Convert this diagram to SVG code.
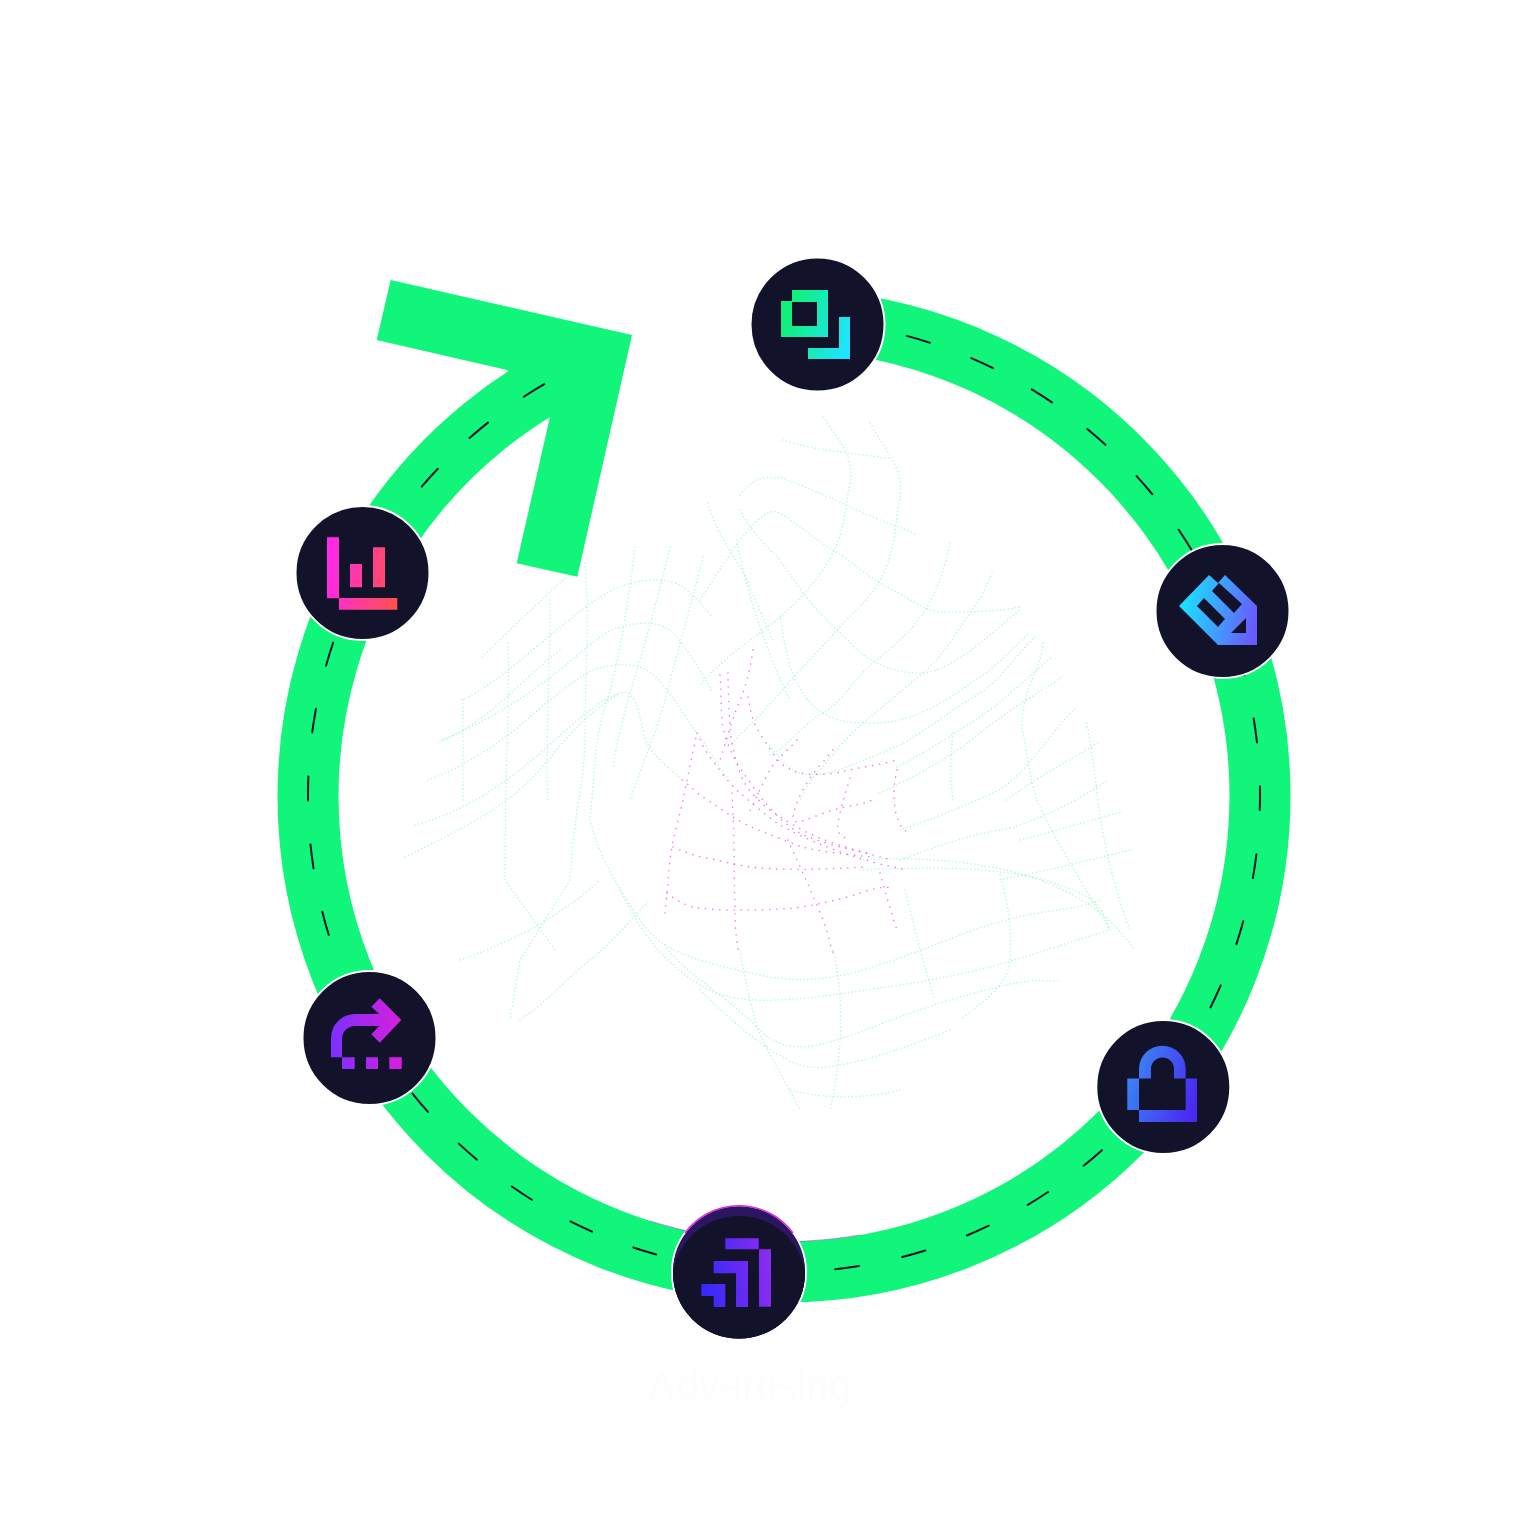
<svg xmlns="http://www.w3.org/2000/svg" width="1536" height="1536" viewBox="0 0 1536 1536">
<style>
.g{fill:none;stroke:#86f5bb;stroke-width:1.5;stroke-linecap:round;stroke-dasharray:.1 3.6;opacity:.6}
.p{fill:none;stroke:#ea45e4;stroke-width:1.5;stroke-linecap:round;stroke-dasharray:.1 7;opacity:.75}
.n{fill:#12122b;stroke:#fff;stroke-width:2}
.ring{fill:none;stroke:#10f57a;stroke-width:61}
.dash{fill:none;stroke:#12122b;stroke-width:2;stroke-linecap:round;stroke-dasharray:24 44.2;stroke-dashoffset:-22}
</style>
<defs>
<linearGradient id="i1" gradientUnits="userSpaceOnUse" x1="785" y1="325" x2="848" y2="345"><stop offset="0" stop-color="#10f07a"/><stop offset="1" stop-color="#1fe4ff"/></linearGradient>
<linearGradient id="i2" gradientUnits="userSpaceOnUse" x1="1185" y1="605" x2="1257" y2="620"><stop offset="0" stop-color="#1cdcff"/><stop offset="1" stop-color="#6a58ff"/></linearGradient>
<linearGradient id="i3" gradientUnits="userSpaceOnUse" x1="1127" y1="1075" x2="1197" y2="1100"><stop offset="0" stop-color="#3a86f5"/><stop offset="1" stop-color="#4a28f0"/></linearGradient>
<linearGradient id="i4" gradientUnits="userSpaceOnUse" x1="701" y1="1280" x2="771" y2="1270"><stop offset="0" stop-color="#3528f8"/><stop offset="1" stop-color="#8a2cf0"/></linearGradient>
<linearGradient id="i5" gradientUnits="userSpaceOnUse" x1="331" y1="1035" x2="402" y2="1035"><stop offset="0" stop-color="#7b30ff"/><stop offset="1" stop-color="#d81fdc"/></linearGradient>
<linearGradient id="i6" gradientUnits="userSpaceOnUse" x1="327" y1="575" x2="397" y2="585"><stop offset="0" stop-color="#ff28e6"/><stop offset="1" stop-color="#ff5050"/></linearGradient>
<clipPath id="c4"><circle cx="739" cy="1272.5" r="66"/></clipPath>
</defs>

<g id="mesh">
<path class="g" d="M482 657C510 630 540 600 567 577"/>
<path class="g" d="M462 700C490 688 520 660 553 633S600 595 620 587S670 575 687 590S705 610 713 617"/>
<path class="g" d="M442 740C480 725 520 700 547 680S600 632 620 627S660 620 673 633S700 670 713 693"/>
<path class="g" d="M428 780C470 765 510 735 530 717S575 680 587 673S630 660 647 670S680 710 697 733S720 770 727 777"/>
<path class="g" d="M405 857C460 830 500 810 530 780S570 725 620 693"/>
<path class="g" d="M415 825C470 810 510 780 547 747S600 700 620 693S640 730 647 743S670 770 680 777"/>
<path class="g" d="M463 700V800"/>
<path class="g" d="M508 643C510 700 505 760 505 880L555 950"/>
<path class="g" d="M550 600C550 680 545 750 548 800"/>
<path class="g" d="M585 563C590 620 585 680 585 733S575 800 570 880L520 960 510 1020"/>
<path class="g" d="M635 547C630 590 620 660 607 700S595 770 590 820"/>
<path class="g" d="M670 547C655 610 640 660 633 683S615 750 613 767"/>
<path class="g" d="M703 557C690 610 675 660 667 693S640 770 630 800"/>
<path class="g" d="M708 503C715 530 730 550 740 567S765 625 773 640"/>
<path class="g" d="M737 540C745 590 770 660 790 700"/>
<path class="g" d="M783 440C800 445 820 450 840 452S880 458 890 458"/>
<path class="g" d="M740 495C760 470 770 480 780 477C800 485 830 497 850 507S900 527 918 535"/>
<path class="g" d="M700 600C720 570 760 500 780 513C800 525 815 540 833 550S865 575 880 583S910 600 923 607S950 612 967 612S1005 610 1020 607"/>
<path class="g" d="M740 510C750 530 765 545 780 560C800 590 815 610 837 630S860 655 877 663S905 673 920 673S950 665 967 653S1005 622 1020 610"/>
<path class="g" d="M780 615C785 650 790 670 797 683S810 705 823 713S850 723 870 723S905 720 927 710S960 690 980 677S1015 645 1030 633"/>
<path class="g" d="M770 745C780 760 790 770 800 773S830 775 847 767S895 750 920 733S960 705 980 693S1020 650 1037 635"/>
<path class="g" d="M897 767C930 750 960 730 980 717S1030 675 1052 657"/>
<path class="g" d="M880 793C930 770 960 750 980 733S1035 695 1062 677"/>
<path class="g" d="M900 830C930 820 960 808 993 793S1050 730 1077 707"/>
<path class="g" d="M900 860C940 845 970 835 1000 830S1080 800 1108 780"/>
<path class="g" d="M1007 800C1040 775 1070 760 1098 743"/>
<path class="g" d="M1000 880C1050 870 1090 860 1130 850"/>
<path class="g" d="M1020 840C1060 830 1090 820 1122 812"/>
<path class="g" d="M823 417C840 440 855 460 850 483S845 530 833 553S800 600 780 617S720 660 700 685"/>
<path class="g" d="M870 423C885 450 905 470 900 497S895 555 880 580S855 610 837 630S800 670 780 693S740 735 730 745"/>
<path class="g" d="M950 543C945 565 940 585 927 607S895 645 873 663S845 700 823 713S790 745 770 755"/>
<path class="g" d="M992 573C985 590 980 600 970 613S945 655 923 673S885 705 863 723S830 760 813 777L800 800"/>
<path class="g" d="M1043 643C1040 670 1030 680 1027 693S1020 720 1023 733S1030 780 1037 800S1080 880 1110 930"/>
<path class="g" d="M1087 723C1090 745 1095 770 1097 793S1110 880 1130 930"/>
<path class="g" d="M953 733C950 760 950 780 953 800"/>
<path class="g" d="M860 860C930 855 1000 865 1040 880S1110 915 1135 950"/>
<path class="g" d="M860 870C950 865 1020 870 1060 885S1100 905 1110 930"/>
<path class="g" d="M590 820C600 860 620 890 640 920S690 960 760 975S880 965 960 935S1060 915 1100 900"/>
<path class="g" d="M620 890C640 930 660 960 700 985S800 1000 900 985S1040 950 1110 930"/>
<path class="g" d="M665 945C680 970 720 990 760 1030S850 1030 950 1000S1040 985 1060 980"/>
<path class="g" d="M700 990C730 1020 770 1055 800 1065S900 1050 950 1030"/>
<path class="g" d="M790 1090C820 1098 860 1100 900 1090"/>
<path class="g" d="M740 950C745 980 750 1000 755 1020S785 1080 800 1110"/>
<path class="g" d="M833 950C840 980 842 1010 840 1040S835 1090 830 1110"/>
<path class="g" d="M905 890C915 930 925 970 935 1000"/>
<path class="g" d="M1000 875C1010 910 1012 935 1010 960S985 1000 960 1020"/>
<path class="g" d="M460 960C490 950 520 935 530 930S580 900 600 880"/>
<path class="g" d="M520 1020C550 1000 570 975 590 960S635 915 650 900"/>
<path class="g" d="M440 742C490 720 510 690 560 650"/>
<path class="p" d="M682 780C690 785 695 792 703 797S725 812 733 817S750 827 763 832S790 843 803 847S850 855 873 857"/>
<path class="p" d="M697 733C702 745 705 750 710 757S730 785 740 793S765 815 777 823S810 840 827 847S880 865 907 870"/>
<path class="p" d="M728 673C728 690 729 710 730 727S738 770 743 780S760 803 770 810S800 830 817 837S870 855 893 860"/>
<path class="p" d="M720 675C721 690 721 705 722 720S732 755 737 763S755 790 763 800S785 825 800 833S850 850 867 853"/>
<path class="p" d="M748 697C750 710 752 715 753 720S770 750 780 763C790 770 795 772 800 773C815 775 830 775 840 772S880 765 897 760"/>
<path class="p" d="M667 893C675 900 685 905 693 907S720 910 737 910S775 910 793 908S840 900 860 893S885 888 893 887"/>
<path class="p" d="M673 847C685 852 695 856 707 858S735 865 750 867S800 870 820 869S855 868 867 867"/>
<path class="p" d="M732 793C733 815 734 835 734 860S735 895 735 913S737 940 738 950"/>
<path class="p" d="M788 840C792 850 798 862 803 873S817 905 823 920S830 945 833 953"/>
<path class="p" d="M665 913C667 895 668 880 670 860S680 815 683 800S690 765 697 733"/>
<path class="p" d="M797 740C790 748 785 752 777 760S755 800 748 815"/>
<path class="p" d="M833 750C825 760 815 770 807 783S795 805 793 817S815 815 833 810S860 805 873 800"/>
<path class="p" d="M850 778C845 795 840 810 838 823S843 835 847 840"/>
<path class="p" d="M897 770C893 785 893 805 897 817S905 830 908 833"/>
<path class="p" d="M880 873C885 890 890 910 897 930"/>
<path class="p" d="M753 650C750 670 745 690 740 700S725 745 720 760"/>
</g>

<g id="connectors">
<path class="ring" d="M818 321A476 476 0 0 1 1260 796A476 476 0 0 1 784 1272A476 476 0 0 1 308 796A476 476 0 0 1 600 357"/>
<polygon fill="#10f57a" points="390.7,280 632,335 577.3,576.7 516.7,563.3 550,416.7 507,370 376.7,340"/>
<path class="dash" d="M818 321A476 476 0 0 1 1260 796A476 476 0 0 1 784 1272A476 476 0 0 1 308 796A476 476 0 0 1 548 382"/>
<path d="M860 1235A445.5 445.5 0 0 1 650 1221" fill="none" stroke="#c93fe0" stroke-width="1" opacity=".55"/>
</g>

<g id="node-1">
<circle class="n" cx="817.5" cy="324.5" r="67"/>
<path fill="url(#i1)" fill-rule="evenodd" d="M792 290H828V337H781V301H792ZM792 302V326H817V302Z"/>
<path fill="url(#i1)" d="M839 317H850V359H808V348H839Z"/>
</g>
<g id="node-2">
<circle class="n" cx="1222.5" cy="611" r="67"/>
<path fill="url(#i2)" fill-rule="evenodd" d="M1209 575L1218 583 1225 575 1257 606V645H1218L1179 606ZM1197 606L1204 598 1225 619 1218 627ZM1212 591L1219 583 1242 604 1234 613ZM1246 618V633H1231Z"/>
</g>
<g id="node-3">
<circle class="n" cx="1163.3" cy="1087" r="67"/>
<path fill="url(#i3)" d="M1139 1078.5V1069A23.3 23.3 0 0 1 1185.7 1069V1078.5H1174V1069A11.5 11.5 0 0 0 1151 1069V1078.5Z"/>
<path fill="url(#i3)" d="M1127.3 1078.5H1139V1110H1127.3ZM1185.7 1078.5H1197V1122H1139V1110H1185.7Z"/>
</g>
<g id="node-4">
<circle class="n" cx="739" cy="1272.5" r="67"/>
<circle cx="739" cy="1272.5" r="66" fill="#2b1760"/>
<circle cx="739" cy="1283" r="67" fill="#12122b" clip-path="url(#c4)"/>
<path d="M685 1233A67 67 0 0 1 793 1233" fill="none" stroke="#d92ee0" stroke-width="1.5"/>
<path fill="url(#i4)" d="M725.3 1238.3H758.7V1249.3H725.3ZM759 1249.3H771V1306.7H759ZM713.7 1261H748V1307H736V1273.3H713.7ZM701.3 1284H725.3V1307H713.7V1296H701.3Z"/>
</g>
<g id="node-5">
<circle class="n" cx="369.5" cy="1038" r="67"/>
<path fill="url(#i5)" d="M379.7 998.3L401.3 1020 379.7 1042.7 371.3 1034.3 379.3 1026H355A13 13 0 0 0 342 1039V1057.3H331V1038A24 24 0 0 1 355.3 1014H379.3L371.3 1006.7Z"/>
<path fill="url(#i5)" d="M342 1057.3H354.7V1069H342ZM366 1057.3H378V1069H366ZM389.3 1057.3H401.7V1069H389.3Z"/>
</g>
<g id="node-6">
<circle class="n" cx="362.5" cy="573" r="67"/>
<path fill="url(#i6)" d="M327 537.3H339V598.3H327ZM350 564H362V587.3H350ZM373 547.3H385V587.3H373ZM339 598H397.3V609.7H339Z"/>
</g>
<text x="750" y="1399" font-family="'Liberation Sans',Arial,sans-serif" font-size="41" text-anchor="middle" fill="#fbfefd">Advertising</text>
</svg>
